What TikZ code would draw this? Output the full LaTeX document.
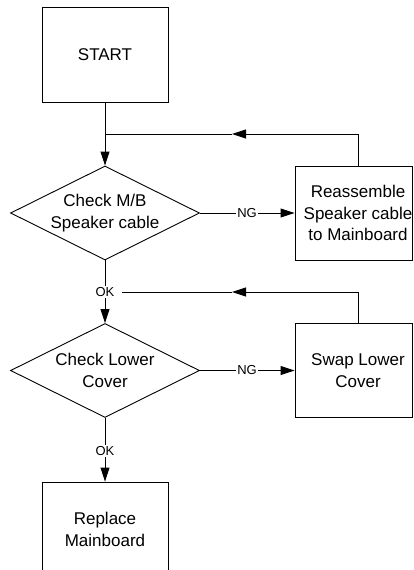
\documentclass[tikz,border=0pt]{standalone}
\usepackage{fontspec}
\setmainfont{Liberation Sans}
\usetikzlibrary{shapes.geometric,arrows.meta}
\newcommand{\rline}[1]{\makebox[0pt]{\hspace*{9pt}#1}}
\begin{document}
\begin{tikzpicture}[x=1pt,y=-1pt,
  every node/.style={font=\fontsize{17}{21.5}\selectfont, align=center},
  boxnode/.style={draw, line width=0.9pt, minimum width=126pt, minimum height=95pt, inner sep=0pt},
  sidebox/.style={draw, line width=0.9pt, minimum width=117pt, minimum height=94pt, inner sep=0pt},
  decnode/.style={draw, line width=0.9pt, shape=diamond, aspect=2, minimum width=189pt, minimum height=94pt, inner sep=0pt},
  lbl/.style={font=\fontsize{13}{15}\selectfont, inner sep=1pt},
  ln/.style={line width=0.9pt},
  arr/.style={line width=0.9pt, -{Triangle[length=14pt,width=9pt]}}]
\clip (0,0) rectangle (413,570);
\node[boxnode] (start) at (105,54.5) {START};
\node[decnode] (d1) at (105,213) {Check M/B\\Speaker cable};
\node[sidebox] (reas) at (353.5,213) {\rline{Reassemble}\\\rline{Speaker cable}\\\rline{to Mainboard}};
\node[decnode] (d2) at (105,370.5) {Check Lower\\Cover};
\node[sidebox] (swap) at (353.5,370.5) {\rline{Swap Lower}\\\rline{Cover}};
\node[boxnode] (repl) at (105,529.5) {Replace\\Mainboard};
\node[lbl] (ng1) at (247,213) {NG};
\node[lbl] (ng2) at (247,370.5) {NG};
\node[lbl] (ok1) at (105,292) {OK};
\node[lbl] (ok2) at (105,451) {OK};
\coordinate (j1) at (105,134);
\coordinate (m1) at (232,134);
\coordinate (c1) at (358,134);
\coordinate (m2) at (232,292);
\coordinate (c2) at (358,292);
\draw[arr] (start.south) -- (d1.north);
\draw[ln] (d1.east) -- (ng1.west);
\draw[arr] (ng1.east) -- (reas.west);
\draw[ln] (reas.north -| c1) -- (c1);
\draw[arr] (c1) -- (m1);
\draw[ln] (m1) -- (j1);
\draw[ln] (d1.south) -- (ok1.north);
\draw[arr] (ok1.south) -- (d2.north);
\draw[ln] (d2.east) -- (ng2.west);
\draw[arr] (ng2.east) -- (swap.west);
\draw[ln] (swap.north -| c2) -- (c2);
\draw[arr] (c2) -- (m2);
\draw[ln] (m2) -- ([xshift=6pt]ok1.east);
\draw[ln] (d2.south) -- (ok2.north);
\draw[arr] (ok2.south) -- (repl.north);
\end{tikzpicture}
\end{document}
